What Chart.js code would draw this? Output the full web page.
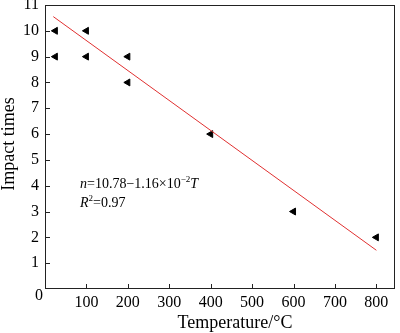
<!DOCTYPE html>
<html><head><meta charset="utf-8">
<script src="https://cdn.jsdelivr.net/npm/chart.js@4"></script>
<style>html,body{margin:0;padding:0;background:#fff}</style>
</head><body>
<canvas id="c" width="400" height="333" style="width:400px;height:333px;display:block"></canvas>
<script>
const temperatures = [25, 25, 100, 100, 200, 200, 400, 600, 800];
const impactTimes  = [10, 9, 10, 9, 9, 8, 6, 3, 2];
const fitTemps  = [20, 800];
const fitValues = [10.55, 1.50];
const xTickValues = [0, 100, 200, 300, 400, 500, 600, 700, 800];
const yTickValues = [0, 1, 2, 3, 4, 5, 6, 7, 8, 9, 10, 11];
const xTitle = 'Temperature/°C';
const yTitle = 'Impact times';
const originLabel = '0';

const FONT = '"Liberation Serif", "Times New Roman", serif';

const framePlugin = {
  id: 'frame',
  afterDraw(chart) {
    const ctx = chart.ctx, a = chart.chartArea;
    const xs = chart.scales.x, ys = chart.scales.y;
    ctx.save();
    ctx.strokeStyle = '#222';
    ctx.lineWidth = 1;
    ctx.strokeRect(Math.round(a.left) + 0.5, Math.round(a.top) + 0.5, Math.round(a.right - a.left) - 1, Math.round(a.bottom - a.top) - 1);
    ctx.beginPath();
    xTickValues.forEach(v => {
      if (v === 0) return;
      const px = Math.round(xs.getPixelForValue(v)) + 0.5;
      ctx.moveTo(px, a.bottom); ctx.lineTo(px, a.bottom - 5);
    });
    yTickValues.forEach(v => {
      if (v === 0 || v === 11) return;
      const py = Math.round(ys.getPixelForValue(v)) + 0.5;
      ctx.moveTo(a.left, py); ctx.lineTo(a.left + 5, py);
    });
    ctx.stroke();

    ctx.fillStyle = '#000';
    // shared origin label
    ctx.font = '16px ' + FONT;
    ctx.textAlign = 'right';
    ctx.textBaseline = 'middle';
    ctx.fillText(originLabel, xs.getPixelForValue(0) - 2, ys.getPixelForValue(0) + 7);

    // axis titles
    ctx.font = '18px ' + FONT;
    ctx.textAlign = 'center';
    ctx.fillText(xTitle, 235, 323);
    ctx.save();
    ctx.translate(9, 144);
    ctx.rotate(-Math.PI / 2);
    ctx.fillText(yTitle, 0, 0);
    ctx.restore();

    // equation annotation
    const runs = (x, y, parts) => {
      ctx.textAlign = 'left';
      ctx.textBaseline = 'alphabetic';
      parts.forEach(p => {
        ctx.font = (p.i ? 'italic ' : '') + (p.s ? '9px ' : '14px ') + FONT;
        ctx.fillText(p.t, x, p.s ? y - 6 : y);
        x += ctx.measureText(p.t).width;
      });
    };
    runs(80, 188, [{t:'n', i:true}, {t:'=10.78\u22121.16\u00d710'}, {t:'\u22122', s:true}, {t:'T', i:true}]);
    runs(80, 207, [{t:'R', i:true}, {t:'2', s:true}, {t:'=0.97'}]);
    ctx.restore();
  }
};

new Chart(document.getElementById('c'), {
  type: 'scatter',
  data: {
    datasets: [
      {
        type: 'line',
        data: fitTemps.map((x, i) => ({x, y: fitValues[i]})),
        borderColor: '#e03030',
        borderWidth: 1,
        pointRadius: 0,
        fill: false
      },
      {
        data: temperatures.map((x, i) => ({x, y: impactTimes[i]})),
        pointStyle: 'triangle',
        rotation: 270,
        radius: 4,
        backgroundColor: '#000',
        borderColor: '#000',
        borderWidth: 1
      }
    ]
  },
  options: {
    responsive: false,
    animation: false,
    devicePixelRatio: 1,
    layout: { padding: { top: 4, right: 2, left: 0, bottom: 0 } },
    plugins: { legend: { display: false }, tooltip: { enabled: false } },
    scales: {
      x: {
        type: 'linear', min: 0, max: 845,
        afterBuildTicks: s => { s.ticks = xTickValues.map(v => ({value: v})); },
        afterFit: s => { s.height = 44; s.paddingLeft = 0; s.paddingRight = 0; },
        ticks: { callback: v => v === 0 ? '' : String(v), color: '#000', font: { family: FONT, size: 16 }, padding: 4, maxRotation: 0, autoSkip: false },
        grid: { display: false, drawTicks: false },
        border: { display: false }
      },
      y: {
        type: 'linear', min: 0, max: 11,
        afterBuildTicks: s => { s.ticks = yTickValues.map(v => ({value: v})); },
        afterFit: s => { s.width = 45; s.paddingTop = 0; s.paddingBottom = 0; },
        ticks: { callback: v => v === 0 ? '' : String(v), color: '#000', font: { family: FONT, size: 16 }, padding: 6, autoSkip: false },
        grid: { display: false, drawTicks: false },
        border: { display: false }
      }
    }
  },
  plugins: [framePlugin]
});
</script>
</body></html>
